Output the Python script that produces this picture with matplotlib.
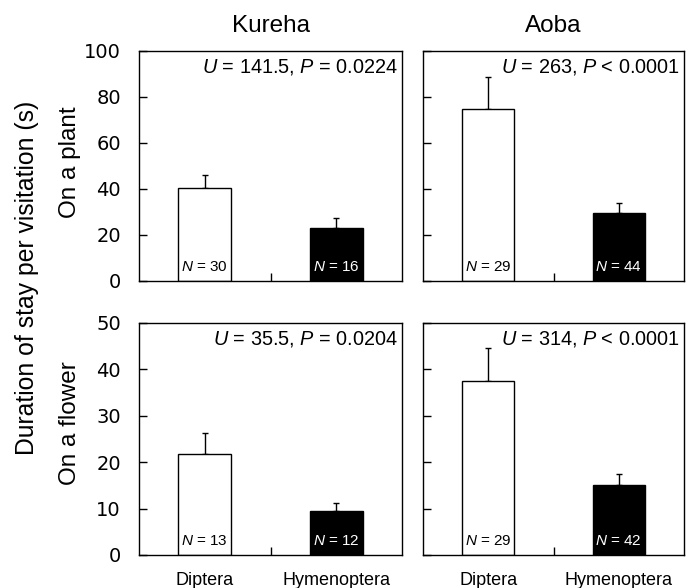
import matplotlib
matplotlib.use("Agg")
import matplotlib.pyplot as plt
from matplotlib.transforms import blended_transform_factory

plt.rcParams['font.family'] = ['Liberation Sans', 'DejaVu Sans']
plt.rcParams['mathtext.fontset'] = 'custom'
plt.rcParams['mathtext.rm'] = 'Liberation Sans'
plt.rcParams['mathtext.it'] = 'Liberation Sans:italic'

categories = ["Diptera", "Hymenoptera"]
sites = ["Kureha", "Aoba"]
rows = ["On a plant", "On a flower"]

# means and upper error (SE) for [Diptera, Hymenoptera]
plant_kureha = [40.6, 22.9]
plant_kureha_err = [5.3, 4.4]
plant_aoba = [74.6, 29.6]
plant_aoba_err = [14.2, 4.4]
flower_kureha = [21.8, 9.5]
flower_kureha_err = [4.4, 1.8]
flower_aoba = [37.5, 15.1]
flower_aoba_err = [7.2, 2.3]

n_plant_kureha = [30, 16]
n_plant_aoba = [29, 44]
n_flower_kureha = [13, 12]
n_flower_aoba = [29, 42]

stats_text = [
    [r"$\it{U}$ = 141.5, $\it{P}$ = 0.0224", r"$\it{U}$ = 263, $\it{P}$ < 0.0001"],
    [r"$\it{U}$ = 35.5, $\it{P}$ = 0.0204", r"$\it{U}$ = 314, $\it{P}$ < 0.0001"],
]

means = [[plant_kureha, plant_aoba], [flower_kureha, flower_aoba]]
errs = [[plant_kureha_err, plant_aoba_err], [flower_kureha_err, flower_aoba_err]]
ns = [[n_plant_kureha, n_plant_aoba], [n_flower_kureha, n_flower_aoba]]
ylims = [100, 50]
yticks = [[0, 20, 40, 60, 80, 100], [0, 10, 20, 30, 40, 50]]

fig = plt.figure(figsize=(6.89, 5.88), dpi=100)
W, H = 689, 588
lefts = [139, 423]
rights = [402, 684]
tops = [51, 323]
bottoms = [281, 555]
row_label_y = [162, 423]

x = [0, 1]
for r in range(2):
    for c in range(2):
        ax = fig.add_axes([lefts[c] / W, 1 - bottoms[r] / H,
                           (rights[c] - lefts[c]) / W, (bottoms[r] - tops[r]) / H])
        m = means[r][c]
        e = errs[r][c]
        ax.bar(x, m, width=0.40, color=["white", "black"], edgecolor="black",
               linewidth=1.0, zorder=2)
        ax.errorbar(x, m, yerr=[[0, 0], e], fmt="none", ecolor="black",
                    elinewidth=1.0, capsize=2.5, capthick=1.0, zorder=1)
        ax.set_xlim(-0.5, 1.5)
        ax.set_ylim(0, ylims[r])
        ax.set_yticks(yticks[r])
        ax.tick_params(axis="y", direction="in", length=6, width=1,
                       labelsize=14, pad=13, labelleft=(c == 0))
        for lab in ax.get_yticklabels():
            lab.set_fontfamily("DejaVu Sans")
        ax.set_xticks(x)
        ax.set_xticks([0.5], minor=True)
        ax.tick_params(axis="x", which="major", length=0, labelsize=13, pad=12)
        ax.tick_params(axis="x", which="minor", direction="in", length=6, width=1)
        if r == 1:
            ax.set_xticklabels(categories)
        else:
            ax.set_xticklabels(["", ""])
        for s in ax.spines.values():
            s.set_linewidth(1.0)
        ax.text(0.985, 0.975, stats_text[r][c], transform=ax.transAxes,
                ha="right", va="top", fontsize=14.3)
        tr = blended_transform_factory(ax.transData, ax.transAxes)
        for i in range(2):
            ax.text(x[i], 0.06, r"$\it{N}$" + f" = {ns[r][c][i]}", transform=tr,
                    ha="center", va="center", fontsize=11,
                    color=("black" if i == 0 else "white"), zorder=3)
        if r == 0:
            ax.set_title(sites[c], fontsize=17.5, pad=13.5)
    fig.text(70 / W, 1 - row_label_y[r] / H, rows[r], rotation=90,
             ha="center", va="center", fontsize=17.5)

fig.text(27 / W, 1 - 278 / H, "Duration of stay per visitation (s)", rotation=90,
         ha="center", va="center", fontsize=17.8)

fig.savefig("out.png", dpi=100)
